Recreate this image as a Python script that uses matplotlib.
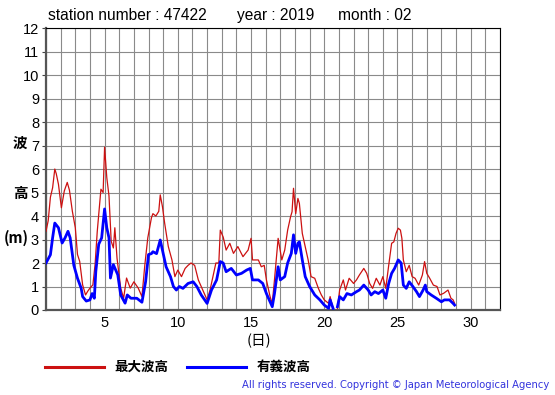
import numpy as np
import matplotlib
matplotlib.use("Agg")
import matplotlib.pyplot as plt
from matplotlib.lines import Line2D

# 最大波高 (day of month, metres)
max_days = [1.0, 1.15, 1.3, 1.45, 1.6, 1.7, 1.85, 2.05, 2.25, 2.45, 2.6, 2.8,
            3.0, 3.15, 3.3, 3.5, 3.7, 3.85, 4.0, 4.2, 4.35, 4.5, 4.75, 4.9,
            5.0, 5.15, 5.3, 5.45, 5.6, 5.7, 5.85, 6.1, 6.3, 6.5, 6.75, 7.0,
            7.3, 7.55, 7.75, 7.95, 8.2, 8.3, 8.5, 8.7, 8.8, 8.95, 9.1, 9.35,
            9.6, 9.8, 10.0, 10.25, 10.5, 10.7, 10.9, 11.15, 11.4, 11.7, 12.0,
            12.2, 12.4, 12.6, 12.8, 12.9, 13.1, 13.3, 13.55, 13.8, 14.1, 14.45,
            14.8, 15.0, 15.1, 15.5, 15.7, 15.9, 16.05, 16.3, 16.45, 16.6, 16.85,
            17.1, 17.3, 17.5, 17.7, 17.8, 17.9, 18.05, 18.2, 18.3, 18.5, 18.7,
            18.9, 19.1, 19.35, 19.6, 19.8, 20.0, 20.3, 20.4, 20.6, 20.75, 20.9,
            21.05, 21.3, 21.45, 21.7, 22.0, 22.2, 22.4, 22.7, 22.9, 23.1, 23.3,
            23.55, 23.8, 24.0, 24.2, 24.4, 24.6, 24.75, 24.9, 25.05, 25.2, 25.3,
            25.4, 25.6, 25.8, 26.0, 26.2, 26.45, 26.7, 26.85, 27.0, 27.2, 27.45,
            27.7, 27.9, 28.15, 28.45, 28.65, 28.8, 28.9]
max_wave = [3.35, 3.8, 4.8, 5.2, 6.0, 5.8, 5.35, 4.35, 5.07, 5.43, 5.1, 4.2,
            3.5, 2.36, 2.07, 1.07, 0.64, 0.8, 0.93, 1.07, 1.93, 3.35, 5.14, 5.0,
            6.93, 5.64, 4.86, 2.93, 2.64, 3.5, 2.2, 0.93, 0.5, 1.36, 0.93, 1.2,
            0.93, 0.57, 1.93, 3.07, 3.93, 4.1, 4.0, 4.2, 4.9, 4.4, 3.7, 2.7,
            2.13, 1.42, 1.7, 1.42, 1.77, 1.9, 2.0, 1.9, 1.28, 0.85, 0.43,
            0.85, 1.42, 2.0, 2.0, 3.4, 3.1, 2.55, 2.84, 2.41, 2.7, 2.27,
            2.55, 3.05, 2.13, 2.13, 1.84, 1.9, 1.28, 0.57, 0.28, 1.28, 3.05,
            2.13, 2.55, 3.4, 3.97, 4.18, 5.18, 4.1, 4.75, 4.54, 3.26, 2.7,
            2.13, 1.42, 1.35, 0.92, 0.64, 0.43, 0.28, 0.57, 0.07, np.nan, 0.07,
            0.85, 1.28, 0.85, 1.35, 1.13, 1.28, 1.49, 1.77, 1.56, 1.13, 0.92,
            1.35, 1.06, 1.42, 0.92, 1.9, 2.84, 2.9, 3.26, 3.48, 3.4, 3.05,
            2.13, 1.63, 1.9, 1.42, 1.35, 1.06, 1.49, 2.06, 1.56, 1.35, 1.06,
            1.0, 0.64, 0.71, 0.85, 0.5, 0.43, 0.28]

# 有義波高
sig_days = [1.0, 1.3, 1.45, 1.6, 1.85, 2.1, 2.3, 2.5, 2.65, 2.9, 3.15, 3.4,
            3.5, 3.75, 4.0, 4.15, 4.3, 4.4, 4.6, 4.8, 5.0, 5.15, 5.3, 5.4,
            5.6, 5.9, 6.1, 6.4, 6.55, 6.8, 7.2, 7.55, 7.8, 8.0, 8.2, 8.3,
            8.55, 8.8, 8.95, 9.2, 9.5, 9.7, 9.9, 10.1, 10.35, 10.7, 11.05,
            11.3, 11.6, 12.0, 12.3, 12.65, 12.9, 13.1, 13.3, 13.65, 14.0,
            14.35, 14.7, 14.95, 15.1, 15.5, 15.8, 16.05, 16.3, 16.45, 16.6,
            16.85, 17.0, 17.3, 17.5, 17.75, 17.9, 18.05, 18.2, 18.3, 18.5,
            18.7, 19.0, 19.35, 19.7, 20.0, 20.3, 20.4, 20.6, 20.75, 20.9,
            21.05, 21.3, 21.55, 21.85, 22.2, 22.4, 22.7, 23.0, 23.2, 23.45,
            23.7, 24.0, 24.2, 24.4, 24.6, 24.8, 25.05, 25.25, 25.4, 25.6,
            25.8, 26.05, 26.3, 26.5, 26.75, 26.9, 27.0, 27.3, 27.65, 28.0,
            28.2, 28.55, 28.8, 28.9]
sig_wave = [2.0, 2.35, 3.07, 3.7, 3.5, 2.85, 3.07, 3.35, 3.07, 1.9, 1.35, 0.93,
            0.57, 0.38, 0.43, 0.7, 0.5, 1.64, 2.8, 3.07, 4.3, 3.5, 3.07, 1.36,
            1.93, 1.5, 0.64, 0.29, 0.64, 0.5, 0.5, 0.33, 1.2, 2.36, 2.4, 2.48,
            2.4, 2.98, 2.55, 1.84, 1.42, 1.0, 0.85, 1.0, 0.92, 1.13, 1.2,
            1.0, 0.64, 0.28, 0.85, 1.28, 2.06, 2.0, 1.63, 1.77, 1.49,
            1.56, 1.7, 1.77, 1.28, 1.28, 1.13, 0.7, 0.35, 0.14, 0.7,
            1.84, 1.28, 1.42, 2.0, 2.41, 3.2, 2.41, 2.84, 2.9, 2.13,
            1.42, 1.0, 0.64, 0.43, 0.21, 0.07, 0.43, 0.07, np.nan, 0.14,
            0.57, 0.43, 0.7, 0.64, 0.78, 0.85, 1.06, 0.85, 0.64, 0.78,
            0.7, 0.85, 0.5, 1.13, 1.56, 1.77, 2.13, 2.0, 1.06, 0.92,
            1.2, 1.0, 0.78, 0.57, 0.85, 1.06, 0.78, 0.64, 0.5, 0.35,
            0.43, 0.43, 0.28, 0.21]

x_ticks = [5, 10, 15, 20, 25, 30]
y_ticks = list(range(13))

jp = ["Noto Sans CJK JP", "DejaVu Sans"]
plt.rcParams["font.family"] = ["Liberation Sans", "DejaVu Sans"]

fig = plt.figure(figsize=(5.55, 3.95), dpi=100)
ax = fig.add_axes([0.0829, 0.2152, 0.8180, 0.7138])

ax.plot(max_days, max_wave, color="#cc1111", lw=0.9, zorder=3)
ax.plot(sig_days, sig_wave, color="#0000ff", lw=2.0, zorder=4)

ax.set_xlim(1, 32)
ax.set_ylim(0, 12)
ax.set_xticks(x_ticks)
ax.set_xticks(np.arange(1, 33), minor=True)
ax.set_yticks(y_ticks)
ax.grid(which="both", axis="x", color="#8a8a8a", lw=0.8)
ax.grid(which="major", axis="y", color="#8a8a8a", lw=0.8)
ax.tick_params(axis="x", which="both", length=0, labelsize=10.5, pad=4)
ax.tick_params(axis="y", length=3, labelsize=10.5, pad=2, color="#444444")
for s in ["top", "right"]:
    ax.spines[s].set_linewidth(0.8)
for s in ["left", "bottom"]:
    ax.spines[s].set_linewidth(1.6)
    ax.spines[s].set_color("#555555")

# header
fig.text(0.087, 0.962, "station number : 47422", fontsize=11.2, ha="left", va="center")
fig.text(0.427, 0.962, "year : 2019", fontsize=11.2, ha="left", va="center")
fig.text(0.609, 0.962, "month : 02", fontsize=11.2, ha="left", va="center")

fig.text(0.036, 0.638, "波", family=jp, fontsize=10.5, fontweight="bold", ha="center", va="center")
fig.text(0.036, 0.511, "高", family=jp, fontsize=10.5, fontweight="bold", ha="center", va="center")
fig.text(0.030, 0.397, "(m)", family=jp, fontsize=10.5, fontweight="bold", ha="center", va="center")
fig.text(0.467, 0.137, "(日)", family=jp, fontsize=10.5, ha="center", va="center")

# legend
fig.add_artist(Line2D([0.081, 0.187], [0.071, 0.071], color="#cc1111", lw=2.2))
fig.text(0.207, 0.071, "最大波高", family=jp, fontsize=9.7, fontweight="bold", va="center")
fig.add_artist(Line2D([0.337, 0.443], [0.071, 0.071], color="#0000ff", lw=2.2))
fig.text(0.463, 0.071, "有義波高", family=jp, fontsize=9.7, fontweight="bold", va="center")

fig.text(0.990, 0.025, "All rights reserved. Copyright \u00a9 Japan Meteorological Agency",
         family=["DejaVu Sans"], fontsize=7.2, color="#3333dd", ha="right", va="center")

fig.savefig("out.png", dpi=100)
